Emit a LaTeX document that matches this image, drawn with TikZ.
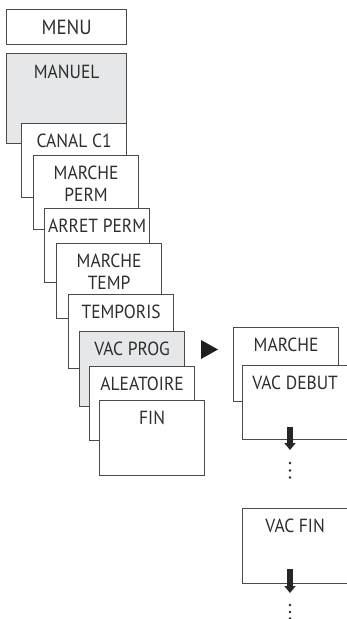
\documentclass[tikz,border=0pt]{standalone}
\usepackage{fontspec}
\setmainfont{PT Sans}[FakeStretch=0.92]
\usetikzlibrary{arrows.meta}
\definecolor{frame}{HTML}{4A4A4A}
\definecolor{ink}{HTML}{2E2E2E}
\definecolor{shade}{HTML}{E6E7E8}
\begin{document}
\begin{tikzpicture}[x=1pt,y=-1pt,
  box/.style={draw=frame, line width=1.2pt, fill=white, inner sep=0pt,
    anchor=north west, text=ink, align=center, text height=23.5pt,
    font=\fontsize{19}{22}\selectfont},
  twoline/.style={text height=45.5pt},
  grey/.style={fill=shade},
  w105/.style={minimum width=105pt},
  w120/.style={minimum width=120pt},
  bigarrow/.style={draw=black!85, line width=6pt,
    -{Triangle[width=11pt,length=7pt]}},
  dot/.style={fill=black!85}]
\useasboundingbox (0,0) rectangle (346,619);

% main menu column
\node[box, w120, text height=25.3pt, text depth=9.7pt,
  font=\fontsize{20.5}{22}\selectfont] (menu) at (6,9) {MENU};
\node[box, w120, grey, text height=25.3pt, text depth=64.7pt] (manuel) at (6,53) {MANUEL};
\node[box, w105, text depth=50.5pt] (canal) at (21,123) {CANAL C1};
\node[box, w105, twoline, text depth=28.5pt] (mperm) at (33,155) {MARCHE\\PERM};
\node[box, w105, text depth=50.5pt] (aperm) at (44,208) {ARRET PERM};
\node[box, w105, twoline, text depth=29.5pt] (mtemp) at (56,243) {MARCHE\\TEMP};
\node[box, w105, text depth=50.5pt] (tempo) at (68,294) {TEMPORIS};
\node[box, w105, grey, text depth=51.5pt] (vacprog) at (79,331) {VAC PROG};
\node[box, w105, text depth=50.5pt] (alea) at (89,366) {ALEATOIRE};
\node[box, w105, text depth=51.5pt] (fin) at (99,400) {FIN};

% pointer to the holiday submenu
\fill[black!88] (201,340) -- (218,349.5) -- (201,359) -- cycle;

% holiday submenu
\node[box, w105, text depth=50.5pt] (marche) at (233,327) {MARCHE};
\node[box, w105, text depth=50.5pt] (vacdeb) at (242,365) {VAC DEBUT};
\node[box, w105, text depth=51.5pt] (vacfin) at (242,508) {VAC FIN};

% continuation arrows and dots
\coordinate (a1s) at (290,427);
\coordinate (a1e) at (290,450);
\draw[bigarrow] (a1s) -- (a1e);
\fill[dot] (290,463) circle (1.3);
\fill[dot] (290,470.5) circle (1.3);
\fill[dot] (290,477.5) circle (1.3);

\coordinate (a2s) at (290,569);
\coordinate (a2e) at (290,593);
\draw[bigarrow] (a2s) -- (a2e);
\fill[dot] (290,605) circle (1.3);
\fill[dot] (290,612) circle (1.3);
\fill[dot] (290,618.5) circle (1.3);
\end{tikzpicture}
\end{document}
